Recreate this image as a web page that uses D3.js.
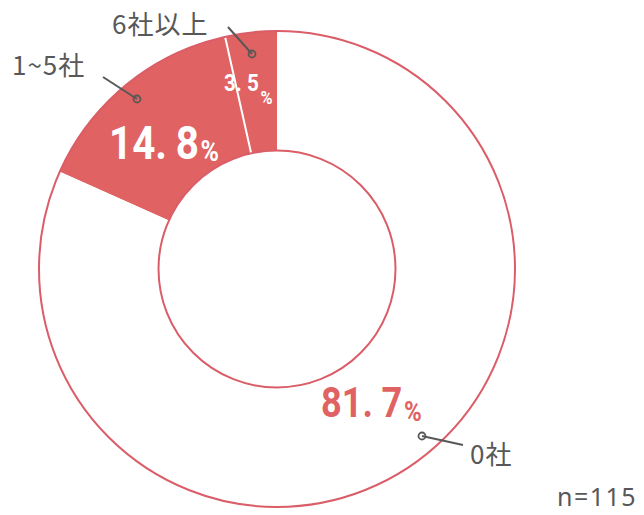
<!DOCTYPE html>
<html>
<head>
<meta charset="utf-8">
<script src="https://cdn.jsdelivr.net/npm/d3@7"></script>
<style>
  body { margin: 0; background: #fff; }
</style>
</head>
<body>
<svg id="chart" width="644" height="515"></svg>
<script>
// Shares of respondents by number of companies (n=115)
const categories = ["6社以上", "1~5社", "0社"];
const shares = [3.5, 14.8, 81.7];
const sampleNote = "n=115";

// Layout
const width = 644, height = 515;
const cx = 277, cy = 269;
const outerR = 238, innerR = 118.5;
const red = "#E06262";
const ringStroke = "#DA5D68";
const textGray = "#585858";

const segFill = { "6社以上": red, "1~5社": red, "0社": "#ffffff" };

// Category label placement, leader lines and percentage styling
const labelLayout = {
  "6社以上": { name: [112, 34], lead: [[228, 27], [252, 54]],
               pct: { x: 224, y: 91, size: 24, pctSize: 19, pctDy: 13, gap: 6, color: "#fff" } },
  "1~5社":   { name: [12, 75], lead: [[103, 77], [137, 99]],
               pct: { x: 109, y: 159, size: 47, pctSize: 29, pctDy: 2, gap: 10, color: "#fff" } },
  "0社":     { name: [470, 464], lead: [[463, 445], [422, 436]],
               pct: { x: 321, y: 417, size: 42, pctSize: 28, pctDy: 4, gap: 10, color: red } }
};

const svg = d3.select("#chart");
const g = svg.append("g").attr("transform", `translate(${cx},${cy})`);

const data = categories.map((c, i) => ({ category: c, value: shares[i] }));

// Slices run counter-clockwise from 12 o'clock
const pie = d3.pie().sort(null).value(d => d.value).startAngle(0).endAngle(-2 * Math.PI);
const arc = d3.arc().innerRadius(innerR).outerRadius(outerR);
const arcs = pie(data);

g.selectAll("path.seg")
  .data(arcs)
  .join("path")
  .attr("class", "seg")
  .attr("d", arc)
  .attr("fill", d => segFill[d.data.category])
  .attr("stroke", "none");

// White divider between the two filled slices
const divider = arcs[0].endAngle;
g.append("line")
  .attr("x1", Math.sin(divider) * (innerR - 1))
  .attr("y1", -Math.cos(divider) * (innerR - 1))
  .attr("x2", Math.sin(divider) * (outerR + 1))
  .attr("y2", -Math.cos(divider) * (outerR + 1))
  .attr("stroke", "#fff")
  .attr("stroke-width", 2);

// Ring outlines
[outerR, innerR].forEach(r => {
  g.append("circle")
    .attr("r", r)
    .attr("fill", "none")
    .attr("stroke", ringStroke)
    .attr("stroke-width", 2);
});

// Category names with leader lines
const labelFont = "'Noto Sans CJK JP', 'Noto Sans', sans-serif";
categories.forEach(c => {
  const L = labelLayout[c];
  svg.append("text")
    .attr("x", L.name[0])
    .attr("y", L.name[1])
    .attr("font-family", labelFont)
    .attr("font-size", 26)
    .attr("letter-spacing", 1)
    .attr("fill", textGray)
    .text(c);
  svg.append("line")
    .attr("x1", L.lead[0][0]).attr("y1", L.lead[0][1])
    .attr("x2", L.lead[1][0]).attr("y2", L.lead[1][1])
    .attr("stroke", textGray)
    .attr("stroke-width", 2);
  svg.append("circle")
    .attr("cx", L.lead[1][0]).attr("cy", L.lead[1][1])
    .attr("r", 3.5)
    .attr("fill", "none")
    .attr("stroke", textGray)
    .attr("stroke-width", 1.8);
});

// Percentage labels (condensed bold numerals)
const numFont = "Roboto, 'DejaVu Sans', sans-serif";
arcs.forEach(a => {
  const c = a.data.category;
  const P = labelLayout[c].pct;
  const parts = a.data.value.toFixed(1).split(".");
  const tg = svg.append("g")
    .attr("transform", `translate(${P.x},${P.y}) scale(0.86,1)`);
  const t = tg.append("text")
    .attr("font-family", numFont)
    .attr("font-weight", 700)
    .attr("font-size", P.size)
    .attr("fill", P.color);
  t.append("tspan").text(parts[0] + ".");
  t.append("tspan").attr("dx", P.gap).text(parts[1]);
  t.append("tspan")
    .attr("font-size", P.pctSize)
    .attr("dx", 2)
    .attr("dy", P.pctDy)
    .text("%");
});

// Sample size note
svg.append("text")
  .attr("x", 557)
  .attr("y", 506)
  .attr("font-family", "'Noto Sans', sans-serif")
  .attr("font-size", 25)
  .attr("letter-spacing", 1.5)
  .attr("fill", textGray)
  .text(sampleNote);
</script>
</body>
</html>
